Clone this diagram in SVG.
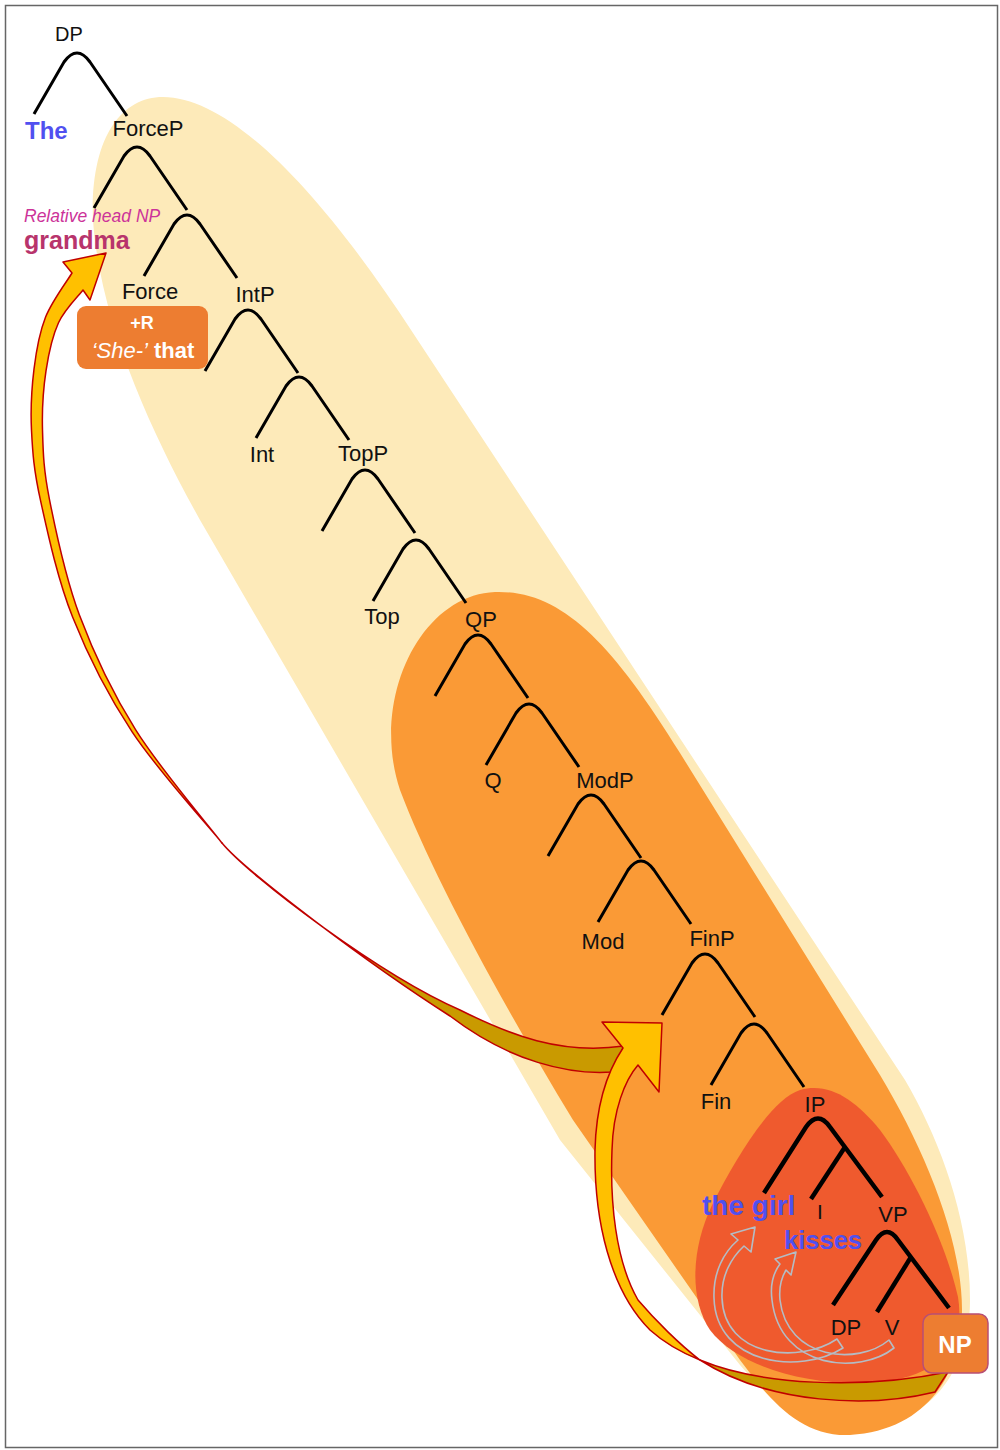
<svg xmlns="http://www.w3.org/2000/svg" width="1000" height="1450" viewBox="0 0 1000 1450">
<style>
.t{font-family:"Liberation Sans",Arial,sans-serif;font-size:22px;fill:#111;text-anchor:middle}
.car{fill:none;stroke:#000;stroke-width:3}
.big{fill:none;stroke:#000;stroke-width:4.5}
.yel{fill:#ffc000;stroke:#c00000;stroke-width:1.5;stroke-linejoin:round}
.gold{fill:#c99a00;stroke:#c00000;stroke-width:1.5;stroke-linejoin:round}
.gray{fill:none;stroke:#b4bcc4;stroke-width:1.6;stroke-linejoin:round}
.blue{font-family:"Liberation Sans",Arial,sans-serif;font-weight:bold;fill:#5050f0}
.box{fill:#ed7d31}
.wt{font-family:"Liberation Sans",Arial,sans-serif;fill:#fff;text-anchor:middle}
</style>
<defs>
<path id="caret" d="M-43,61 L-13,9 Q0,-9 13,9 L50,63"/>
</defs>
<rect x="0" y="0" width="1000" height="1450" fill="#fff"/>
<rect x="5.5" y="5.5" width="992" height="1442" fill="none" stroke="#666" stroke-width="1.5"/>

<g id="regions">
<path id="region-cp" fill="#fdeab9" d="M163,97 C230,97 320,190 413,333 L905,1080 C940,1140 970,1220 970,1300 C970,1380 920,1430 850,1430 C800,1430 770,1400 740,1365 L560,1140 L200,520 C150,430 100,320 93,220 C90,140 120,97 163,97 Z"/>
<path id="region-orange" fill="#fa9a36" d="M495,592 C560,590 610,640 680,753 L880,1075 C925,1150 962,1240 962,1310 C962,1370 930,1430 850,1435 C800,1437 770,1400 740,1360 L573,1120 C500,1000 430,870 400,790 C370,700 420,595 495,592 Z"/>
<path id="region-ip" fill="#ef5a2e" d="M800,1090 C830,1082 855,1100 880,1130 C910,1170 945,1240 958,1297 C965,1340 945,1375 880,1382 C820,1388 740,1370 710,1330 C690,1300 690,1250 713,1203 C735,1160 770,1100 800,1090 Z"/>
</g>

<g id="connectors">
<g class="car">
<use href="#caret" transform="translate(77,53)"/>
<use href="#caret" transform="translate(137,147)"/>
<use href="#caret" transform="translate(187,215)"/>
<use href="#caret" transform="translate(248,310)"/>
<use href="#caret" transform="translate(299,377)"/>
<use href="#caret" transform="translate(365,470)"/>
<use href="#caret" transform="translate(416,540)"/>
<use href="#caret" transform="translate(478,635)"/>
<use href="#caret" transform="translate(529,704)"/>
<use href="#caret" transform="translate(591,795)"/>
<use href="#caret" transform="translate(641,861)"/>
<use href="#caret" transform="translate(705,954)"/>
<use href="#caret" transform="translate(754,1024)"/>
</g>
<g class="big">
<path d="M764,1193 L806,1127 Q818,1110 830,1127 L882,1197"/>
<path d="M845,1147 L811,1199"/>
<path d="M833,1305 L876,1240 Q887,1224 898,1240 L949,1308"/>
<path d="M911,1257 L877,1312"/>
</g>
<g id="arrow-grandma">
<path class="gold" d="M222,843 C250,877 380,975 460,1010 C510,1035 560,1055 624,1046 L612,1072 C570,1075 510,1062 450,1016 C370,965 245,871 222,843 Z"/>
<path class="yel" d="M106,253 L63,262 L72,273 C67.6,280.4 51.8,301.3 45.5,317.3 C39.2,333.3 36.3,350.4 34,369.2 C31.7,388 30.4,408.3 31.5,430.2 C32.6,452.2 33.7,469.7 40.6,500.9 C47.5,532.1 57.4,578.8 72.7,617.3 C88,655.8 107.4,694.5 132.3,732.1 C157.2,769.7 207,824.5 222,843 C207.6,824.2 159.5,768 135.7,729.9 C111.9,691.9 93.7,653.2 79.3,614.7 C64.9,576.2 55.5,529.9 49.4,499.1 C43.3,468.3 43.1,451.2 42.5,429.8 C41.9,408.4 43.3,388.7 46,370.8 C48.7,352.9 52.3,336.2 58.5,322.7 C64.7,309.2 78.9,295.5 83,290 L90,300 Z"/>
</g>
<g id="arrow-np">
<path class="gold" d="M700,1360 C760,1385 860,1390 948,1372 L935,1392 C870,1408 770,1405 700,1360 Z"/>
<path class="yel" d="M662,1023 L602,1022 L623,1048 C605,1075 596,1110 595,1150 C594,1220 610,1290 650,1330 C670,1348 690,1356 700,1360 C680,1345 655,1320 638,1300 C615,1260 610,1200 612,1150 C613,1110 625,1080 638,1065 L659,1092 Z"/>
</g>
<g id="arrow-girl" class="gray">
<path d="M843,1348 C800,1375 716,1365 714,1298 C713,1272 724,1252 738,1240 L731,1234 L755,1227 L751,1252 L744,1246 C731,1258 721,1276 722,1298 C724,1358 800,1364 837,1339 Z"/>
</g>
<g id="arrow-kisses" class="gray">
<path d="M894,1348 C860,1375 780,1370 772,1300 C770,1285 774,1272 780,1264 L775,1259 L796,1252 L791,1275 L786,1270 C780,1280 779,1290 780,1300 C787,1360 858,1366 889,1340 Z"/>
</g>
</g>

<g id="node-dp"><text class="t" x="69" y="41" style="font-size:20px">DP</text></g>
<g id="node-the"><text class="blue" x="25" y="139" style="font-size:24px">The</text></g>
<g id="node-forcep"><text class="t" x="148" y="136">ForceP</text></g>
<g id="node-grandma">
<text x="24" y="222" style="font-family:'Liberation Sans',Arial,sans-serif;font-size:17.5px;font-style:italic;fill:#cc3399">Relative head NP</text>
<text x="24" y="249" style="font-family:'Liberation Sans',Arial,sans-serif;font-size:25px;font-weight:bold;fill:#b8346c">grandma</text>
</g>
<g id="node-force"><text class="t" x="150" y="299">Force</text></g>
<g id="node-intp"><text class="t" x="255" y="302">IntP</text></g>
<g id="node-r">
<rect class="box" x="77" y="306" width="131" height="63" rx="9"/>
<text class="wt" x="142" y="329" style="font-size:18px;font-weight:bold">+R</text>
<text class="wt" x="143" y="358" style="font-size:22px"><tspan font-style="italic">‘She-’</tspan> <tspan font-weight="bold">that</tspan></text>
</g>
<g id="node-int"><text class="t" x="262" y="462">Int</text></g>
<g id="node-topp"><text class="t" x="363" y="461">TopP</text></g>
<g id="node-top"><text class="t" x="382" y="624">Top</text></g>
<g id="node-qp"><text class="t" x="481" y="627">QP</text></g>
<g id="node-q"><text class="t" x="493" y="788">Q</text></g>
<g id="node-modp"><text class="t" x="605" y="788">ModP</text></g>
<g id="node-mod"><text class="t" x="603" y="949">Mod</text></g>
<g id="node-finp"><text class="t" x="712" y="946">FinP</text></g>
<g id="node-fin"><text class="t" x="716" y="1109">Fin</text></g>
<g id="node-ip"><text class="t" x="815" y="1112">IP</text></g>
<g id="node-thegirl"><text class="blue" x="702" y="1215" style="font-size:28px">the girl</text></g>
<g id="node-i"><text class="t" x="820" y="1219" style="font-size:21px">I</text></g>
<g id="node-vp"><text class="t" x="893" y="1222">VP</text></g>
<g id="node-kisses"><text class="blue" x="784" y="1249" style="font-size:25.5px">kisses</text></g>
<g id="node-dp2"><text class="t" x="846" y="1335">DP</text></g>
<g id="node-v"><text class="t" x="892" y="1335">V</text></g>
<g id="node-np">
<rect class="box" x="923" y="1314" width="65" height="59" rx="9" stroke="#b84f74" stroke-width="1.5"/>
<text class="wt" x="955" y="1353" style="font-size:24px;font-weight:bold">NP</text>
</g>
</svg>
